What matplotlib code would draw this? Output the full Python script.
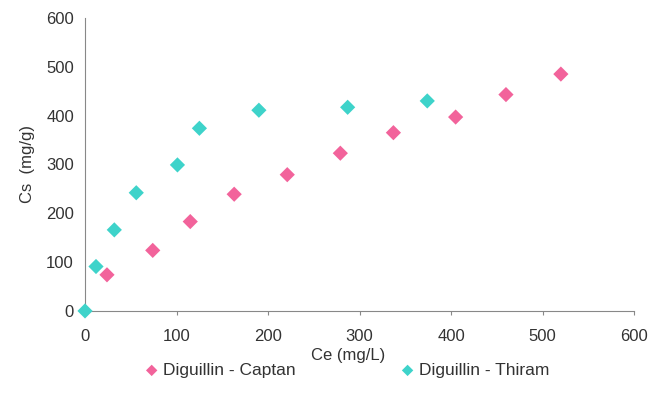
import matplotlib
matplotlib.use('Agg')
from matplotlib import pyplot as plt

plt.rcParams['font.family'] = ['Liberation Sans', 'DejaVu Sans']

captan_ce = [24, 74, 115, 163, 221, 279, 337, 405, 460, 520]
captan_cs = [74, 124, 183, 239, 279, 323, 365, 397, 443, 485]

thiram_ce = [0, 12, 32, 56, 101, 125, 190, 287, 374]
thiram_cs = [0, 91, 166, 242, 299, 374, 411, 417, 430]

pink = '#F2639B'
teal = '#3ED3CA'
grey = '#888888'

def set_spines(ax):
    ax.spines['top'].set_visible(False)
    ax.spines['right'].set_visible(False)
    ax.spines['left'].set_color(grey)
    ax.spines['bottom'].set_color(grey)
    ax.spines['left'].set_linewidth(0.8)
    ax.spines['bottom'].set_linewidth(0.8)

def main():
    fig = plt.figure(figsize=(6.51, 4.07), dpi=100)
    ax = fig.add_axes([0.1306, 0.236, 0.8434, 0.72])
    set_spines(ax)

    ax.scatter(captan_ce, captan_cs, marker='D', s=60, color=pink,
               edgecolors='none', label='Diguillin - Captan', zorder=3, clip_on=False)
    ax.scatter(thiram_ce, thiram_cs, marker='D', s=60, color=teal,
               edgecolors='none', label='Diguillin - Thiram', zorder=3, clip_on=False)

    ax.set_xlim(0, 600)
    ax.set_ylim(0, 600)
    ax.set_xticks(range(0, 601, 100))
    ax.set_yticks(range(0, 601, 100))
    ax.tick_params(axis='x', direction='out', length=3, color=grey,
                   labelsize=12, labelcolor='#333333', pad=10)
    ax.tick_params(axis='y', direction='out', length=0, color=grey,
                   labelsize=12, labelcolor='#333333', pad=8)

    ax.set_xlabel('Ce (mg/L)', fontsize=12, color='#333333', labelpad=3)
    ax.xaxis.label.set_x(0.48)
    ax.set_ylabel('Cs  (mg/g)', fontsize=12, color='#333333', labelpad=8)

    fig.legend(loc='center left', bbox_to_anchor=(0.197, 0.09), ncol=2,
               frameon=False, fontsize=12.5, markerscale=0.75,
               handletextpad=0.2, columnspacing=6.0, handlelength=0.9,
               labelcolor='#333333')

    fig.savefig('out.png', dpi=100)

if __name__ == '__main__':
    main()
